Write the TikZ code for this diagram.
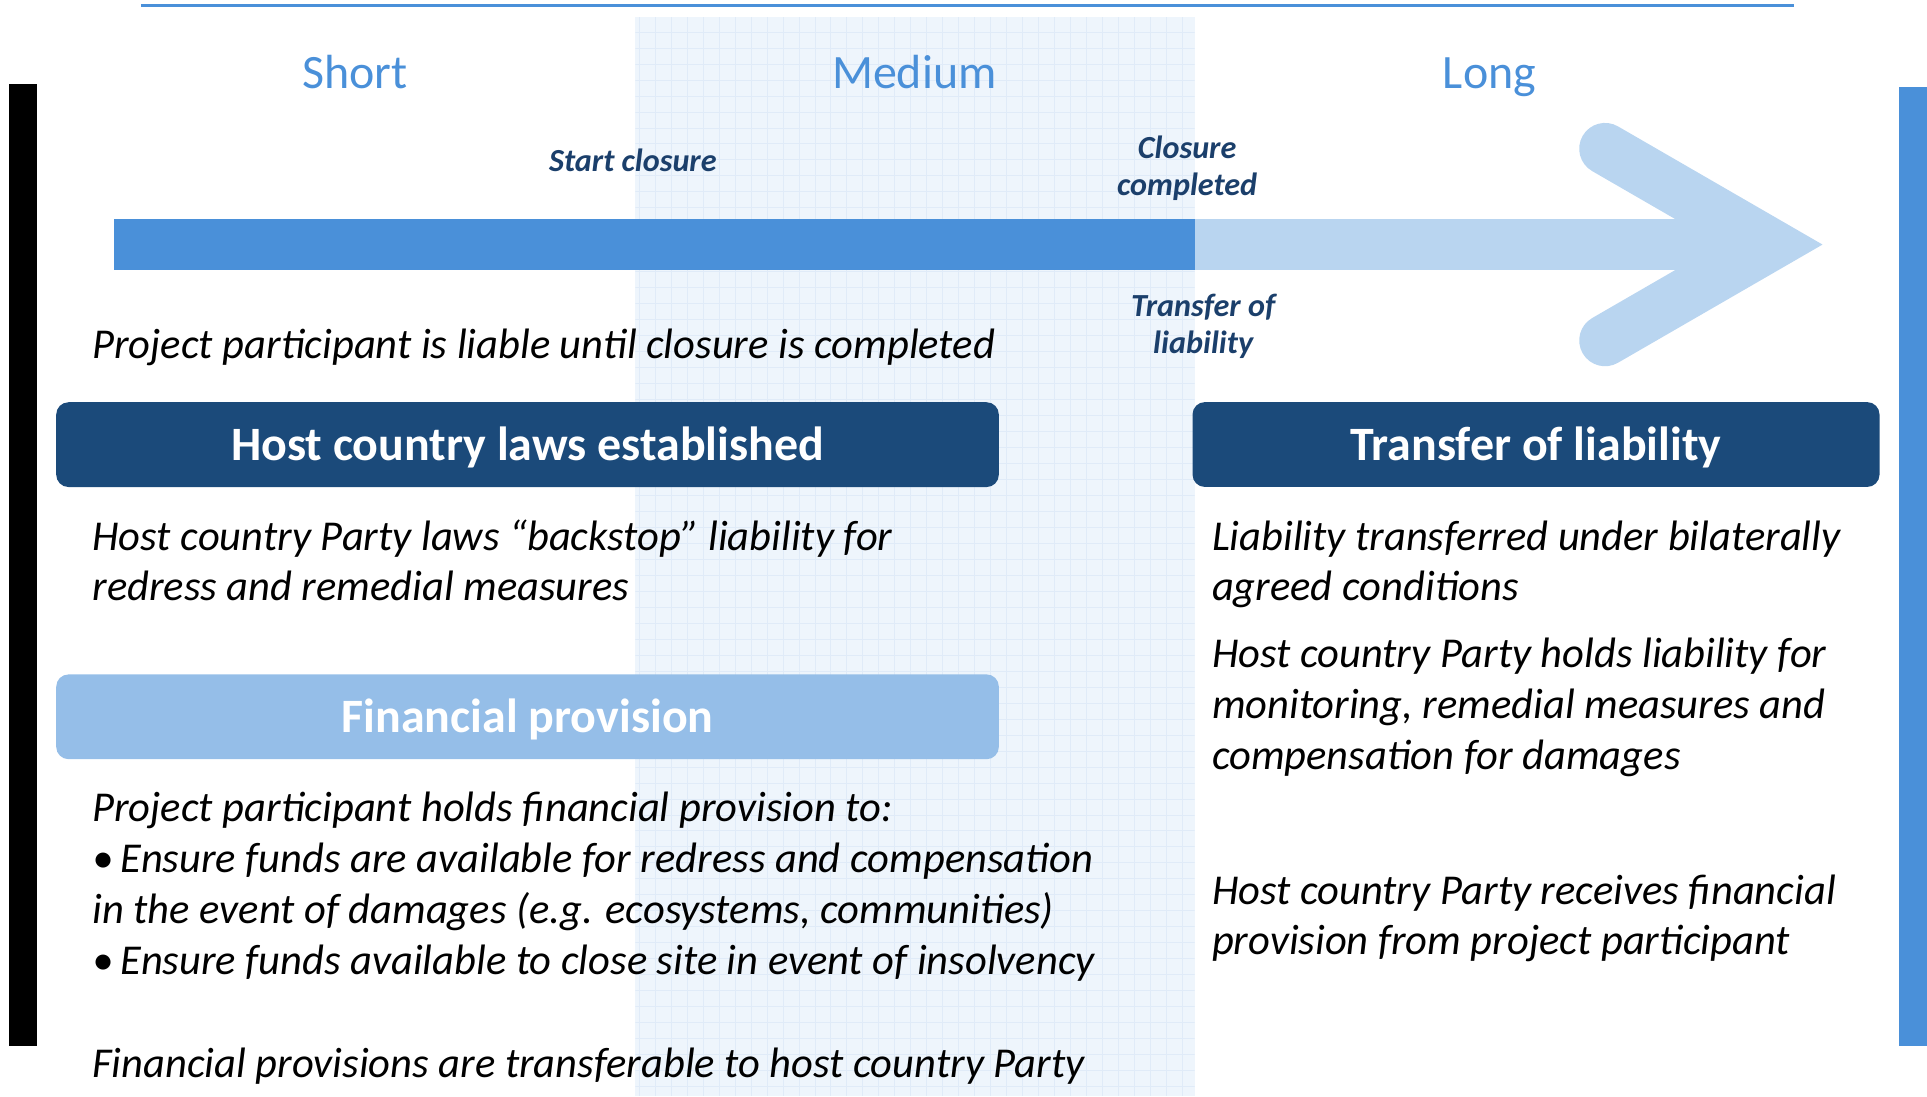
\documentclass[tikz,border=0pt]{standalone}
\usepackage{fontspec}
\setmainfont{Carlito}
\definecolor{tblue}{HTML}{4A90D9}
\definecolor{lblue}{HTML}{B9D5F0}
\definecolor{navy}{HTML}{1B3F6B}
\definecolor{boxdark}{HTML}{1B4A7A}
\definecolor{boxlight}{HTML}{95BEE8}
\definecolor{bandfill}{HTML}{EEF5FC}
\definecolor{bandgrid}{HTML}{E0EBF8}
\begin{document}
\begin{tikzpicture}[x=1pt,y=-1pt,
  period/.style={font=\fontsize{39}{46}\selectfont, text=tblue, anchor=base, inner sep=0pt},
  milestone/.style={font=\fontsize{26.2}{30.5}\selectfont\bfseries\itshape, text=navy, align=center, anchor=base, inner sep=0pt},
  body/.style={font=\fontsize{34.6}{41.4}\selectfont\itshape, anchor=base west, inner sep=0pt, align=left},
  titlebox/.style={rounded corners=10pt, minimum height=69pt, text=white, inner sep=0pt,
    text height=26pt, text depth=0pt, font=\fontsize{39}{46}\selectfont\bfseries}
]
\useasboundingbox (0,0) rectangle (1568,892);
% medium band
\fill[bandfill] (517,14) rectangle (972,892);
\begin{scope}
\clip (517,14) rectangle (972,892);
\draw[bandgrid, line width=0.5pt, step=13pt] (517,14) grid (972,892);
\end{scope}
% top rule and side bars
\draw[tblue, line width=2pt] (114.6,4.3) -- (1459.6,4.3);
\fill[black] (7,68.3) rectangle (29.9,851);
\fill[tblue] (1544.8,71) rectangle (1568,851);
% periods
\node[period] (short) at (289,72) {Short};
\node[period] (medium) at (744,72) {Medium};
\node[period] (long) at (1212,72) {Long};
% arrow
\fill[tblue] (93,178) rectangle (972,220);
\fill[lblue] (972,178) rectangle (1441,220);
\draw[lblue, line width=42pt, line cap=round, line join=miter] (1306,121) -- (1441,199) -- (1306,277);
% milestones
\node[milestone] (start) at (515,139.5) {Start closure};
\node[milestone] (closed) at (966,159.3) {Closure\\completed};
\node[milestone] (transfer) at (979,288) {Transfer of\\liability};
% body text
\node[body] (liable) at (75,291.5) {Project participant is liable until closure is completed};
\node[titlebox, fill=boxdark, minimum width=767pt] (hostlaws) at (429.25,361.8) {Host country laws established};
\node[titlebox, fill=boxdark, minimum width=559pt] (translia) at (1249.85,361.7) {Transfer of liability};
\node[titlebox, fill=boxlight, minimum width=767pt] (finprov) at (429.25,583.25) {Financial provision};
\node[body] (backstop) at (75,489) {Host country Party laws “backstop” liability for\\redress and remedial measures};
\node[body] (holds) at (75,792.7) {Project participant holds financial provision to:\\•\,Ensure funds are available for redress and compensation\\in the event of damages (e.g. ecosystems, communities)\\•\,Ensure funds available to close site in event of insolvency};
\node[body] (transferable) at (75,876.5) {Financial provisions are transferable to host country Party};
\node[body] (bilat) at (986,489) {Liability transferred under bilaterally\\agreed conditions};
\node[body] (hostholds) at (986,625.8) {Host country Party holds liability for\\monitoring, remedial measures and\\compensation for damages};
\node[body] (receives) at (986,777) {Host country Party receives financial\\provision from project participant};
\end{tikzpicture}
\end{document}
